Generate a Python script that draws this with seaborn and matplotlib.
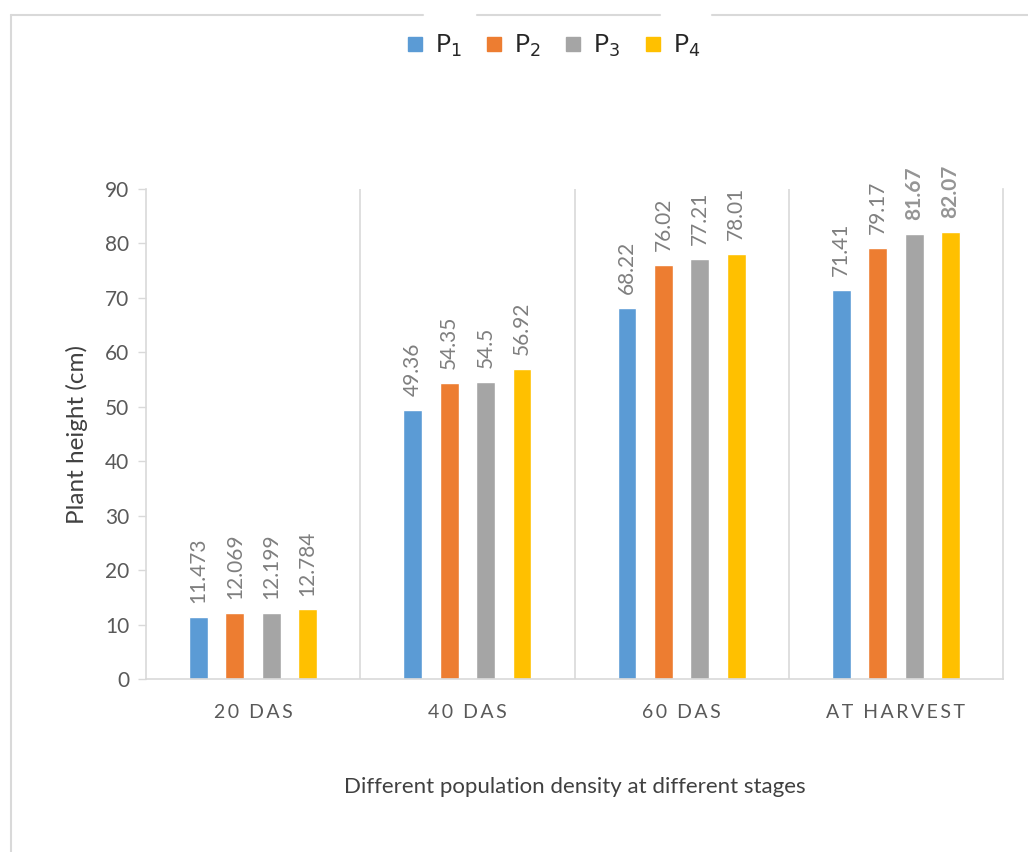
import matplotlib
matplotlib.use("Agg")
import matplotlib.pyplot as plt
import seaborn as sns
import pandas as pd
from matplotlib.lines import Line2D

# data
stages = ["20 DAS", "40 DAS", "60 DAS", "AT HARVEST"]
densities = ["P$_1$", "P$_2$", "P$_3$", "P$_4$"]
p1 = [11.473, 49.36, 68.22, 71.41]
p2 = [12.069, 54.35, 76.02, 79.17]
p3 = [12.199, 54.5, 77.21, 81.67]
p4 = [12.784, 56.92, 78.01, 82.07]
colors = ["#5B9BD5", "#ED7D31", "#A5A5A5", "#FFC000"]

rows = []
for name, vals in zip(densities, [p1, p2, p3, p4]):
    for st, v in zip(stages, vals):
        rows.append({"stage": st, "density": name, "height": v})
df = pd.DataFrame(rows)

sns.set_style("white")
plt.rcParams['font.family'] = ['Lato', 'DejaVu Sans']

fig = plt.figure(figsize=(10.28, 8.52), dpi=100)
ax = fig.add_axes([146 / 1028, 1 - 679 / 852, (1003 - 146) / 1028, (679 - 189) / 852])

sns.barplot(data=df, x="stage", y="height", hue="density", palette=colors,
            width=0.68, gap=0.48, ax=ax, legend=False, saturation=1)

# data labels
for i, cont in enumerate(ax.containers):
    texts = ax.bar_label(cont, labels=[str(v) for v in [p1, p2, p3, p4][i]],
                         rotation=90, padding=10, color="#7f7f7f", fontsize=15)
    if i >= 2:
        texts[-1].set_fontweight("bold")
        texts[-1].set_color("#959595")

ax.set_ylim(0, 90)
ax.set_xlim(-0.5, 3.5)
ax.set_yticks(range(0, 91, 10))

spaced = ["\u2009".join(list(s)) for s in stages]
ax.set_xticks(range(4))
ax.set_xticklabels(spaced)
ax.tick_params(axis="x", length=0, pad=18, labelsize=14, labelcolor="#595959")
ax.tick_params(axis="y", length=6, width=1, color="#d9d9d9", labelsize=15,
               labelcolor="#595959", pad=6, left=True)

# group separators
for xb in [0.5, 1.5, 2.5]:
    ax.axvline(xb, color="#d9d9d9", lw=1.2, zorder=0)

for side in ["left", "bottom", "right"]:
    ax.spines[side].set_color("#d9d9d9")
    ax.spines[side].set_linewidth(1.2)
ax.spines["top"].set_visible(False)

ax.set_ylabel("Plant height (cm)", fontsize=17.5, color="#404040", labelpad=12)
ax.set_xlabel("Different population density at different stages", fontsize=16,
              color="#404040", labelpad=40)

# legend
handles = [Line2D([], [], marker="s", linestyle="none", markersize=10,
                  markerfacecolor=c, markeredgecolor=c) for c in colors]
fig.legend(handles, densities, loc="center", bbox_to_anchor=(550 / 1028, 1 - 46 / 852),
           ncol=4, frameon=False, fontsize=18, handletextpad=0.2, columnspacing=0.7,
           handlelength=1.2)

# outer chart frame
fc = "#d9d9d9"
fig.add_artist(Line2D([11 / 1028, 11 / 1028], [0, 1 - 15 / 852], transform=fig.transFigure, color=fc, lw=1.5))
for x0, x1 in [(11, 423), (477, 660), (712, 1028)]:
    fig.add_artist(Line2D([x0 / 1028, x1 / 1028], [1 - 15 / 852, 1 - 15 / 852],
                          transform=fig.transFigure, color=fc, lw=1.5))

fig.savefig("out.png", dpi=100)
